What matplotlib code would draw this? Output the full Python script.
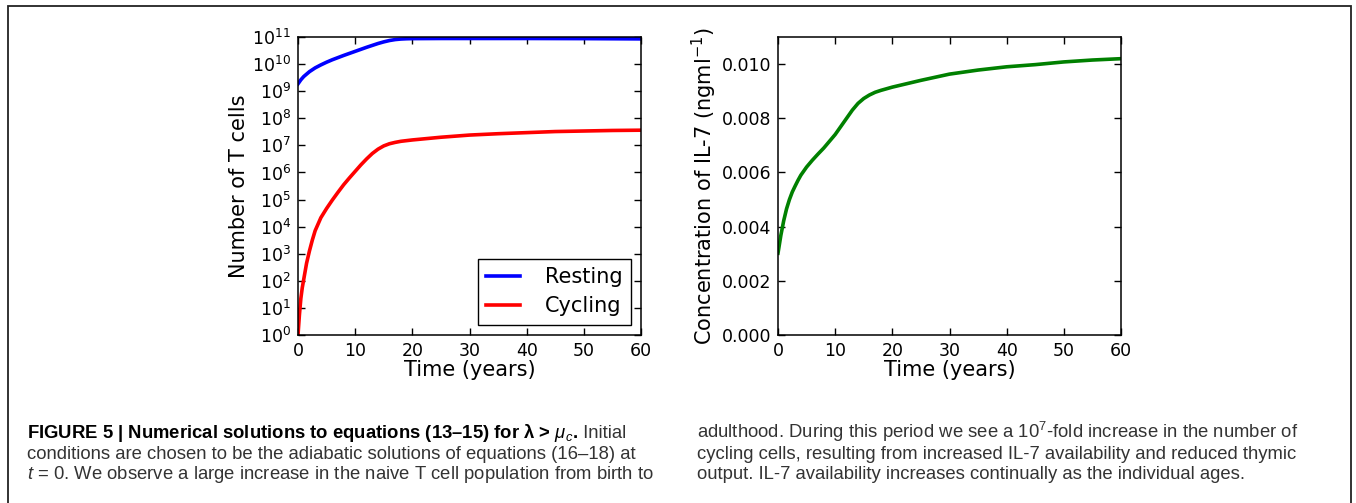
import matplotlib
matplotlib.use("Agg")
import matplotlib.pyplot as plt
from matplotlib.patches import Rectangle
from matplotlib.ticker import NullLocator

# ---- data ----
t_resting = [0, 0.5, 1, 2, 3, 4, 5, 6, 8, 10, 12, 14, 15, 16, 17, 18, 19, 20, 25, 30, 40, 50, 60]
resting_log10 = [9.27, 9.42, 9.54, 9.72, 9.86, 9.97, 10.07, 10.16, 10.32, 10.47,
                 10.62, 10.76, 10.82, 10.87, 10.905, 10.925, 10.935, 10.94,
                 10.945, 10.945, 10.945, 10.94, 10.93]

t_cycling = [0, 0.25, 0.5, 0.75, 1, 1.5, 2, 2.5, 3, 4, 5, 6, 7, 8, 9, 10, 11, 12, 13,
             14, 15, 16, 17, 18, 20, 25, 30, 35, 40, 45, 50, 55, 60]
cycling_log10 = [0.0, 0.75, 1.35, 1.75, 2.05, 2.65, 3.1, 3.5, 3.85, 4.33, 4.67, 4.98,
                 5.27, 5.55, 5.8, 6.04, 6.28, 6.5, 6.7, 6.86, 6.98, 7.06, 7.11, 7.15,
                 7.2, 7.3, 7.38, 7.43, 7.47, 7.51, 7.53, 7.55, 7.56]

t_il7 = [0, 0.5, 1, 1.5, 2, 2.5, 3, 3.5, 4, 5, 6, 7, 8, 9, 10, 11, 12, 13, 14, 15, 16,
         17, 18, 19, 20, 25, 30, 35, 40, 45, 50, 55, 60]
il7 = [0.00302, 0.00368, 0.00422, 0.00466, 0.00500, 0.00528, 0.00550, 0.00571, 0.0059,
       0.0062, 0.00645, 0.00668, 0.0069, 0.00715, 0.0074, 0.0077, 0.0080, 0.0083,
       0.00855, 0.00873, 0.00886, 0.00896, 0.00903, 0.00909, 0.00915, 0.0094,
       0.00963, 0.00978, 0.0099, 0.00998, 0.01008, 0.01015, 0.0102]

year_ticks = [0, 10, 20, 30, 40, 50, 60]
decade_ticks = list(range(0, 12))
il7_ticks = [0.0, 0.002, 0.004, 0.006, 0.008, 0.010]

caption_title = "FIGURE 5 | Numerical solutions to equations (13\u201315) for \u03bb > $\\mu_c$."
caption_left = [
    "conditions are chosen to be the adiabatic solutions of equations (16\u201318) at",
    "$t$ = 0. We observe a large increase in the naive T cell population from birth to",
]
caption_right = [
    "adulthood. During this period we see a 10$^7$-fold increase in the number of",
    "cycling cells, resulting from increased IL-7 availability and reduced thymic",
    "output. IL-7 availability increases continually as the individual ages.",
]

cap_font = "Liberation Sans"
plt.rcParams["mathtext.rm"] = cap_font
plt.rcParams["mathtext.it"] = cap_font + ":italic"
plt.rcParams["mathtext.bf"] = cap_font + ":bold"
plt.rcParams["mathtext.fontset"] = "dejavusans"
plt.rcParams["font.family"] = ["DejaVu Sans"]

W, H = 1356, 503
fig = plt.figure(figsize=(W / 100, H / 100), dpi=100)


def px_axes(x0, y0, x1, y1):
    return fig.add_axes([x0 / W, 1 - y1 / H, (x1 - x0) / W, (y1 - y0) / H])


def style(ax):
    ax.tick_params(direction="in", top=True, right=True, length=5, width=1,
                   labelsize=12.5, pad=5)
    for s in ax.spines.values():
        s.set_linewidth(1.1)
    ax.set_xlim(0, 60)
    ax.set_xticks(year_ticks)
    ax.set_xlabel("Time (years)", fontsize=15, labelpad=0)


# left panel
ax1 = px_axes(298, 37, 641, 335)
ax1.set_yscale("log")
ax1.plot(t_resting, [10 ** v for v in resting_log10], color="#0000ff", lw=2.6, label="Resting")
ax1.plot(t_cycling, [10 ** v for v in cycling_log10], color="#ff0000", lw=2.6, label="Cycling")
ax1.set_ylim(1, 1e11)
ax1.set_yticks([10.0 ** k for k in decade_ticks])
ax1.yaxis.set_minor_locator(NullLocator())
style(ax1)
ax1.set_ylabel("Number of T cells", fontsize=15, labelpad=2)
leg = ax1.legend(loc="lower right", fontsize=15, handlelength=1.6, handletextpad=1.2,
                 labelspacing=0.45, borderaxespad=0.5, fancybox=False, framealpha=1)
leg.get_frame().set_edgecolor("black")
leg.get_frame().set_linewidth(1.0)

# right panel
ax2 = px_axes(778, 37, 1121, 335)
ax2.plot(t_il7, il7, color="#008000", lw=2.6)
ax2.set_ylim(0, 0.011)
ax2.set_yticks(il7_ticks)
ax2.set_yticklabels([f"{v:.3f}" for v in il7_ticks])
style(ax2)
ax2.set_ylabel("Concentration of IL-7 (ngml$^{-1}$)", fontsize=15, labelpad=2)

# outer frame (open at the bottom)
fig.patches.append(Rectangle((8 / W, -0.2), (1351 - 8) / W, 1.2 - 6 / H,
                             transform=fig.transFigure, fill=False,
                             edgecolor="#222222", lw=1.3))

# caption
base = [438, 459, 479]
kw = dict(family=cap_font, fontsize=11, va="baseline", math_fontfamily="custom")
bold = fig.text(27 / W, 1 - base[0] / H, caption_title, weight="bold", color="black", **kw)
cap_texts = [bold]
for i, line in enumerate(caption_left):
    cap_texts.append(fig.text(27 / W, 1 - base[i + 1] / H, line, color="#333333", **kw))
for i, line in enumerate(caption_right):
    cap_texts.append(fig.text(697 / W, 1 - base[i] / H, line, color="#333333", **kw))

# size the caption so the longest left line runs from x=27 to x=653 like the original
fig.canvas.draw()
w = cap_texts[2].get_window_extent().width
fs = 11 * 626 / w
for t in cap_texts:
    t.set_fontsize(fs)

# " Initial" goes right after the bold part
fig.canvas.draw()
bb = bold.get_window_extent()
fig.text(bb.x1 / W, 1 - base[0] / H, " Initial", family=cap_font, fontsize=fs,
         color="#333333", va="baseline")

fig.savefig("out.png", dpi=100)
